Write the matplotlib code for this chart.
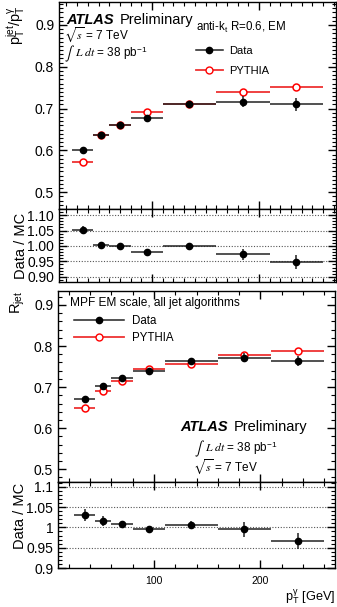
import numpy as np
import matplotlib
matplotlib.use("Agg")
from matplotlib import pyplot as plt
from matplotlib.lines import Line2D
from matplotlib.ticker import MultipleLocator, FixedLocator

plt.rcParams['font.family'] = ['Liberation Sans', 'DejaVu Sans']
plt.rcParams['mathtext.fontset'] = 'custom'
plt.rcParams['mathtext.rm'] = 'Liberation Sans'
plt.rcParams['mathtext.it'] = 'Liberation Sans:italic'

# bin edges in photon pT [GeV]
edges = [25, 45, 60, 80, 110, 160, 210, 260]

# pT balance (top)
data_top = [0.600, 0.636, 0.660, 0.677, 0.711, 0.717, 0.710]
data_top_err = [0.003, 0.003, 0.003, 0.004, 0.004, 0.013, 0.016]
mc_top = [0.572, 0.637, 0.661, 0.693, 0.712, 0.740, 0.751]
mc_top_err = [0.002, 0.002, 0.002, 0.002, 0.002, 0.003, 0.003]
ratio_top = [1.052, 1.002, 1.000, 0.979, 0.999, 0.973, 0.948]
ratio_top_err = [0.013, 0.010, 0.005, 0.005, 0.010, 0.018, 0.023]

# MPF (bottom)
data_bot = [0.671, 0.702, 0.722, 0.740, 0.763, 0.772, 0.763]
data_bot_err = [0.004, 0.004, 0.004, 0.004, 0.004, 0.010, 0.012]
mc_bot = [0.650, 0.691, 0.716, 0.743, 0.757, 0.777, 0.789]
mc_bot_err = [0.002, 0.002, 0.002, 0.002, 0.002, 0.003, 0.003]
ratio_bot = [1.030, 1.016, 1.009, 0.996, 1.007, 0.995, 0.967]
ratio_bot_err = [0.015, 0.012, 0.008, 0.005, 0.008, 0.018, 0.020]

W, H = 337, 607
edges = np.array(edges)
xc = 0.5 * (edges[:-1] + edges[1:])
xe = 0.5 * (edges[1:] - edges[:-1])

fig = plt.figure(figsize=(W / 100, H / 100), dpi=100)


def px_axes(left, top, right, bottom):
    return fig.add_axes([left / W, 1 - bottom / H, (right - left) / W, (bottom - top) / H])


def px(x, y):
    return x / W, 1 - y / H


def style(ax, xminor, yminor):
    ax.tick_params(which='both', direction='in', top=True, right=True, labelsize=10)
    ax.tick_params(which='major', length=6, width=1)
    ax.tick_params(which='minor', length=3, width=0.8)
    ax.xaxis.set_major_locator(FixedLocator([100, 200]))
    ax.xaxis.set_minor_locator(MultipleLocator(xminor))
    ax.yaxis.set_minor_locator(MultipleLocator(yminor))
    for s in ax.spines.values():
        s.set_linewidth(1)


def draw_main(ax, d, de, m, me):
    ax.errorbar(xc, m, xerr=xe, yerr=me, fmt='o', color='#ee3333', mfc='white',
                mec='red', ms=5, mew=1.1, elinewidth=1.3, capsize=0, zorder=2)
    ax.errorbar(xc, d, xerr=xe, yerr=de, fmt='o', color='#222222', mfc='black',
                mec='black', ms=4.5, elinewidth=1.1, capsize=0, zorder=3)


def draw_ratio(ax, r, re, lines):
    for v in lines:
        ax.axhline(v, color='#555555', ls=(0, (1, 1.5)), lw=0.8, zorder=0)
    ax.errorbar(xc, r, xerr=xe, yerr=re, fmt='o', color='#222222', mfc='black',
                mec='black', ms=4.5, elinewidth=1.1, capsize=0, zorder=3)
    ax.spines['top'].set_linewidth(2.2)


def lumi(x, y):
    fig.text(*px(x, y + 1), r'$\int$', fontsize=10, va='center', math_fontfamily='stix')
    fig.text(*px(x + 11, y), r'$L\ dt$ = 38 pb$^{\mathregular{-1}}$', fontsize=8.5,
             va='center', math_fontfamily='stix')


LABX = -0.112

# ---------------- top: pT balance ----------------
ax1 = px_axes(59, 2, 336, 209)
draw_main(ax1, data_top, data_top_err, mc_top, mc_top_err)
ax1.set_xlim(13, 272)
ax1.set_ylim(0.46, 0.955)
ax1.yaxis.set_major_locator(FixedLocator([0.5, 0.6, 0.7, 0.8, 0.9]))
style(ax1, 10, 0.01)
ax1.set_xticklabels([])
ax1.set_ylabel(r'$\mathregular{p_T^{jet}/p_T^{\gamma}}$', fontsize=10.5, loc='top')
ax1.yaxis.set_label_coords(LABX, 0.985)

fig.text(*px(66, 20), 'ATLAS', fontsize=10.5, weight='bold', style='italic', va='center')
fig.text(*px(120, 20), 'Preliminary', fontsize=10.5, va='center')
fig.text(*px(64, 35), r'$\sqrt{s}$ = 7 TeV', fontsize=8.5, va='center', math_fontfamily='stix')
lumi(64, 53)

h_data = Line2D([], [], color='#222222', marker='o', mfc='black', mec='black', ms=4.5, lw=1.1)
h_mc = Line2D([], [], color='#ee3333', marker='o', mfc='white', mec='red', ms=5, lw=1.3)
leg1 = ax1.legend([h_data, h_mc], ['Data', 'PYTHIA'], loc='upper left',
                  bbox_to_anchor=((196 - 59) / 277, (209 - 20) / 207), frameon=False,
                  fontsize=8, title=r'anti-k$_\mathregular{t}$ R=0.6, EM', title_fontsize=8.3,
                  alignment='left', handlelength=2.4, handletextpad=0.6,
                  labelspacing=0.95, borderpad=0, borderaxespad=0)

# ---------------- top ratio ----------------
ax2 = px_axes(59, 209, 336, 282)
draw_ratio(ax2, ratio_top, ratio_top_err, [0.90, 0.95, 1.00, 1.05, 1.10])
ax2.set_xlim(13, 272)
ax2.set_ylim(0.883, 1.12)
ax2.yaxis.set_major_locator(FixedLocator([0.90, 0.95, 1.00, 1.05, 1.10]))
style(ax2, 10, 0.01)
ax2.set_yticklabels(['0.90', '0.95', '1.00', '1.05', '1.10'])
ax2.set_xticklabels([])
ax2.set_ylabel('Data / MC', fontsize=10.5)
ax2.yaxis.set_label_coords(LABX, 0.5)

# ---------------- bottom: MPF ----------------
ax3 = px_axes(58, 291, 335, 482)
draw_main(ax3, data_bot, data_bot_err, mc_bot, mc_bot_err)
ax3.set_xlim(10, 270)
ax3.set_ylim(0.469, 0.934)
ax3.yaxis.set_major_locator(FixedLocator([0.5, 0.6, 0.7, 0.8, 0.9]))
style(ax3, 20, 0.02)
ax3.set_xticklabels([])
ax3.set_ylabel(r'R$_{\mathregular{jet}}$', fontsize=10.5, loc='top')
ax3.yaxis.set_label_coords(LABX, 1.0)

fig.text(*px(70, 303), 'MPF EM scale, all jet algorithms', fontsize=8.6, va='center')
leg3 = ax3.legend([h_data, h_mc], ['Data', 'PYTHIA'], loc='upper left',
                  bbox_to_anchor=((74 - 58) / 277, (482 - 315) / 191), frameon=False,
                  fontsize=8.3, handlelength=4.3, handletextpad=0.7,
                  labelspacing=0.45, borderpad=0, borderaxespad=0)

fig.text(*px(180, 427), 'ATLAS', fontsize=10.5, weight='bold', style='italic', va='center')
fig.text(*px(234, 427), 'Preliminary', fontsize=10.5, va='center')
lumi(194, 448)
fig.text(*px(193, 467), r'$\sqrt{s}$ = 7 TeV', fontsize=8.5, va='center', math_fontfamily='stix')

# ---------------- bottom ratio ----------------
ax4 = px_axes(58, 482, 335, 568)
draw_ratio(ax4, ratio_bot, ratio_bot_err, [0.95, 1.00, 1.05, 1.10])
ax4.set_xlim(10, 270)
ax4.set_ylim(0.9, 1.112)
ax4.yaxis.set_major_locator(FixedLocator([0.90, 0.95, 1.00, 1.05, 1.10]))
style(ax4, 20, 0.01)
ax4.set_yticklabels(['0.9', '0.95', '1', '1.05', '1.1'])
ax4.tick_params(axis='x', labelsize=7.5, pad=6)
ax4.set_ylabel('Data / MC', fontsize=10.5)
ax4.yaxis.set_label_coords(LABX, 0.6)
ax4.set_xlabel(r'$\mathregular{p_T^{\gamma}}$ [GeV]', fontsize=9.2, loc='right', labelpad=1)

fig.savefig('out.png', dpi=100)
